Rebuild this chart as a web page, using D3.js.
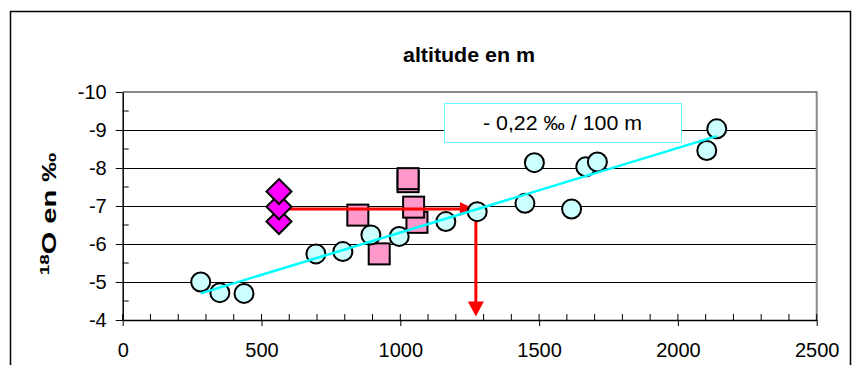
<!DOCTYPE html>
<html>
<head>
<meta charset="utf-8">
<script src="https://cdn.jsdelivr.net/npm/d3@7"></script>
<style>
  body { margin: 0; background: #fff; }
  svg { font-family: "Liberation Sans", Arial, sans-serif; }
</style>
</head>
<body>
<svg id="chart" width="853" height="365"></svg>
<script>
// data (altitude in m, delta 18O in permil)
var circleAlt = [281, 350, 437, 696, 793, 894, 996, 1164, 1277, 1449, 1483, 1617, 1668, 1710, 2104, 2140];
var circleO18 = [-5.0, -4.72, -4.70, -5.74, -5.80, -6.24, -6.20, -6.59, -6.85, -7.07, -8.14, -6.92, -8.03, -8.16, -8.46, -9.03];

var squareAlt = [847, 924, 1028, 1028, 1060, 1048];
var squareO18 = [-6.76, -5.74, -7.64, -7.72, -6.57, -6.97];

var diamondAlt = [563, 563, 563];
var diamondO18 = [-6.59, -6.98, -7.38];

var trendAlt = [281, 2140];
var trendO18 = [-4.70, -8.84];

var arrowAlt = [563, 1265];
var arrowO18 = [-6.92, -4.09];

var xTicks = [0, 500, 1000, 1500, 2000, 2500];
var yTicks = [-10, -9, -8, -7, -6, -5, -4];

var titleText = "altitude en m";
var slopeText = "- 0,22 \u2030 / 100 m";

var svg = d3.select("#chart");

var x = d3.scaleLinear().domain([0, 2500]).range([122.7, 816.7]);
var y = d3.scaleLinear().domain([-4, -10]).range([320, 92]);

// outer frame
svg.append("rect")
  .attr("x", 10.5).attr("y", 11.5)
  .attr("width", 840).attr("height", 380)
  .attr("fill", "none").attr("stroke", "#000").attr("stroke-width", 1.5);

svg.append("text")
  .attr("x", 403).attr("y", 61.5)
  .attr("font-size", 20).attr("font-weight", "bold")
  .attr("textLength", 132).attr("lengthAdjust", "spacingAndGlyphs")
  .text(titleText);

// y label (stretched along its direction like the original)
var yl = svg.append("text")
  .attr("transform", "translate(56,214) rotate(-90) scale(1.45,1)")
  .attr("text-anchor", "middle")
  .attr("font-size", 20).attr("font-weight", "bold");
yl.append("tspan").attr("font-size", 13).attr("dy", -7).text("18");
yl.append("tspan").attr("dy", 7).text("O en \u2030");

// grid lines
svg.append("g").selectAll("line")
  .data(yTicks.filter(function(d){ return d > -10 && d < -4; }))
  .enter().append("line")
  .attr("x1", x(0)).attr("x2", x(2500))
  .attr("y1", function(d){ return Math.round(y(d)) + 0.5; })
  .attr("y2", function(d){ return Math.round(y(d)) + 0.5; })
  .attr("stroke", "#000").attr("stroke-width", 1);

// plot box top + right (grey)
svg.append("path")
  .attr("d", "M" + x(0) + "," + y(-10) + "H" + x(2500) + "V" + y(-4))
  .attr("fill", "none").attr("stroke", "#888").attr("stroke-width", 2);

// annotation box
svg.append("rect")
  .attr("x", 444.5).attr("y", 103.5)
  .attr("width", 237).attr("height", 39)
  .attr("fill", "#fff").attr("stroke", "#66ffff").attr("stroke-width", 1);
svg.append("text")
  .attr("x", 483).attr("y", 130)
  .attr("font-size", 20)
  .attr("textLength", 159).attr("lengthAdjust", "spacingAndGlyphs")
  .text(slopeText);

// axes
var xAxis = svg.append("g")
  .attr("transform", "translate(0,320)")
  .call(d3.axisBottom(x).tickValues(xTicks).tickSize(6).tickPadding(17).tickSizeOuter(0)
    .tickFormat(function(d){ return String(d); }));
xAxis.selectAll("text").attr("font-size", 20).attr("font-family", "Liberation Sans, Arial, sans-serif").attr("fill", "#000");
xAxis.select(".domain").attr("stroke-width", 1.5);

var yAxis = svg.append("g")
  .attr("transform", "translate(122.7,0)")
  .call(d3.axisLeft(y).tickValues(yTicks).tickSize(7).tickPadding(9).tickSizeOuter(0)
    .tickFormat(function(d){ return String(d); }));
yAxis.selectAll("text").attr("font-size", 20).attr("font-family", "Liberation Sans, Arial, sans-serif").attr("fill", "#000");
yAxis.select(".domain").attr("stroke-width", 1.5);

// minor ticks, inside
svg.append("g").selectAll("line")
  .data(x.ticks(25))
  .enter().append("line")
  .attr("x1", function(d){ return x(d); }).attr("x2", function(d){ return x(d); })
  .attr("y1", 320).attr("y2", 314)
  .attr("stroke", "#000");
svg.append("g").selectAll("line")
  .data(y.ticks(12).filter(function(d){ return d % 1 !== 0; }))
  .enter().append("line")
  .attr("x1", x(0)).attr("x2", x(0) + 6)
  .attr("y1", function(d){ return y(d); }).attr("y2", function(d){ return y(d); })
  .attr("stroke", "#000");

// squares
var sq = 21;
svg.append("g").selectAll("rect")
  .data(d3.range(squareAlt.length))
  .enter().append("rect")
  .attr("x", function(i){ return x(squareAlt[i]) - sq / 2; })
  .attr("y", function(i){ return y(squareO18[i]) - sq / 2; })
  .attr("width", sq).attr("height", sq)
  .attr("fill", "#ff99cc").attr("stroke", "#000").attr("stroke-width", 2);

// red arrows
var red = "#ff0000";
var ax0 = x(arrowAlt[0]), ax1 = x(arrowAlt[1]);
var ay0 = y(arrowO18[0]), ay1 = y(arrowO18[1]);
svg.append("line")
  .attr("x1", ax0).attr("x2", ax1 - 13)
  .attr("y1", ay0).attr("y2", ay0)
  .attr("stroke", red).attr("stroke-width", 3);
svg.append("path")
  .attr("d", "M" + ax1 + "," + ay0 + "L" + (ax1 - 14) + "," + (ay0 - 7) + "L" + (ax1 - 14) + "," + (ay0 + 7) + "Z")
  .attr("fill", red);
svg.append("line")
  .attr("x1", ax1 + 2).attr("x2", ax1 + 2)
  .attr("y1", ay0).attr("y2", ay1 - 14)
  .attr("stroke", red).attr("stroke-width", 3);
svg.append("path")
  .attr("d", "M" + (ax1 + 2) + "," + ay1 + "L" + (ax1 - 6) + "," + (ay1 - 15) + "L" + (ax1 + 10) + "," + (ay1 - 15) + "Z")
  .attr("fill", red);

// circles
svg.append("g").selectAll("circle")
  .data(d3.range(circleAlt.length))
  .enter().append("circle")
  .attr("cx", function(i){ return x(circleAlt[i]); })
  .attr("cy", function(i){ return y(circleO18[i]); })
  .attr("r", 9.5)
  .attr("fill", "#ccffff").attr("stroke", "#000").attr("stroke-width", 2);

// trend line
svg.append("line")
  .attr("x1", x(trendAlt[0])).attr("y1", y(trendO18[0]))
  .attr("x2", x(trendAlt[1])).attr("y2", y(trendO18[1]))
  .attr("stroke", "#00ffff").attr("stroke-width", 2.5);

// diamonds
var dd = 12.5;
svg.append("g").selectAll("path")
  .data(d3.range(diamondAlt.length))
  .enter().append("path")
  .attr("d", function(i){
    var cx = x(diamondAlt[i]), cy = y(diamondO18[i]);
    return "M" + cx + "," + (cy - dd) + "L" + (cx + dd) + "," + cy + "L" + cx + "," + (cy + dd) + "L" + (cx - dd) + "," + cy + "Z";
  })
  .attr("fill", "#ff00ff").attr("stroke", "#000").attr("stroke-width", 2);
</script>
</body>
</html>
